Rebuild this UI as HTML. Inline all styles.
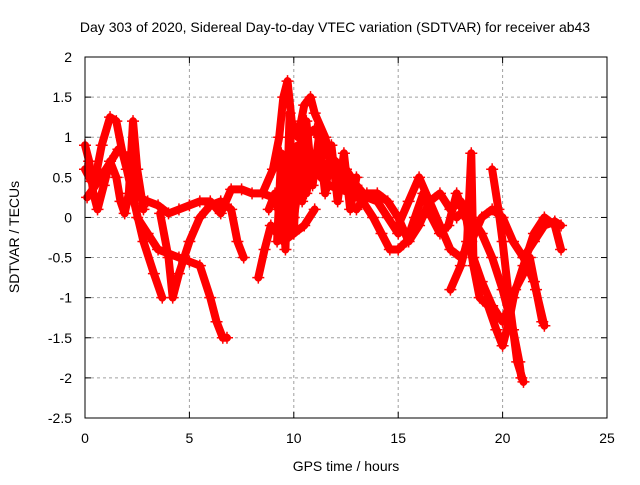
<!DOCTYPE html>
<html><head><meta charset="utf-8"><style>
body{margin:0;background:#fff;}
svg text{font-family:"Liberation Sans",sans-serif;font-size:14px;fill:#000;}
</style></head><body>
<svg id="chart" width="640" height="480" viewBox="0 0 640 480">
<text x="335" y="32" text-anchor="middle">Day 303 of 2020, Sidereal Day-to-day VTEC variation (SDTVAR) for receiver ab43</text>
<text x="346" y="471" text-anchor="middle">GPS time / hours</text>
<text transform="translate(19,237) rotate(-90)" text-anchor="middle">SDTVAR / TECUs</text>
<g id="grid"></g><g id="ticks"></g><g id="series"></g>
<rect x="85" y="57" width="522" height="361" fill="none" stroke="#000" stroke-width="1"/>
</svg>
<script>
const xTicks=[0,5,10,15,20,25];
const yTicks=[-2.5,-2,-1.5,-1,-0.5,0,0.5,1,1.5,2];
const trackA=[[0,0.6],[0.3,0.45],[0.5,0.5],[0.8,0.9],[1.2,1.25],[1.5,1.2],[1.8,0.8],[2.0,0.6],[2.3,0.25],[2.8,-0.3],[3.3,-0.7],[3.7,-1.0]];
const trackB=[[0.1,0.25],[0.5,0.4],[1.0,0.6],[1.6,0.85],[2.0,0.75],[2.3,0.5],[2.6,0.25],[3.0,0.2],[3.5,0.15],[4.0,0.05],[4.5,0.1],[5.0,0.15],[5.5,0.2],[6.0,0.2],[6.5,0.05],[7,0.35],[7.5,0.35],[8,0.3],[8.5,0.3],[9,0.25],[9.5,0.35]];
const trackC=[[2.5,0.0],[3,-0.2],[3.5,-0.4],[4,-0.45],[4.5,-0.5],[5,-0.55],[5.5,-0.6],[6,-1.0],[6.3,-1.3],[6.6,-1.5],[6.8,-1.5]];
const trackD=[[3.6,0.05],[4.0,-0.5],[4.2,-1.0],[4.5,-0.7],[5,-0.3],[5.5,0.0],[6,0.15],[6.5,0.2],[7,0.1],[7.3,-0.3],[7.6,-0.5]];
const trackE=[[8.3,-0.75],[8.6,-0.4],[8.9,-0.1],[9.2,-0.2],[9.5,-0.3],[10,-0.2],[10.5,-0.1],[11,0.1]];
const trackF=[[8.5,0.3],[9,0.6],[9.3,1.0],[9.5,1.5],[9.7,1.7],[9.9,1.2],[10.2,1.0],[10.5,1.4],[10.8,1.5],[11,1.3],[11.5,1.0],[12,0.5],[12.5,0.6],[13,0.4],[13.5,0.25],[14,0.2],[14.5,0.0],[15,-0.2]];
const trackG=[[9.5,0.5],[10,0.7],[10.5,1.0],[11,1.1],[11.5,0.8],[12,0.7],[12.5,0.5],[13,0.3]];
const trackH=[[13,0.1],[13.5,0.3],[14,0.3],[14.5,0.2],[15,0.0],[15.5,-0.3],[16,-0.1],[16.5,0.2],[17,0.3],[17.5,0.1],[18,0.2],[18.5,0.0],[19,-0.2],[19.5,-0.5],[20,-0.9],[20.5,-1.4],[20.8,-1.8],[20.9,-2.0]];
const trackI=[[15,-0.1],[15.5,0.2],[16,0.5],[16.5,0.2],[17,-0.1],[17.5,-0.4],[18,-0.5],[18.5,-0.3],[19,0.0],[19.5,0.1],[20,0.0],[20.5,-0.3],[21,-0.5],[21.5,-0.8],[22,-1.35]];
const trackJ=[[17.5,-0.9],[18,-0.6],[18.3,-0.3],[18.5,0.8],[18.6,-0.5],[19,-0.8],[19.5,-1.1],[20,-1.3],[20.5,-1.0],[21,-0.6],[21.5,-0.2],[22,0.0],[22.5,-0.1],[22.8,-0.4]];
const trackK=[[19.5,0.6],[19.8,0.1],[20,-0.3],[20.3,-1.0],[20.7,-1.8],[21,-2.05]];
const trackL=[[21,-0.5],[21.5,-0.3],[22,-0.1],[22.5,-0.05],[22.8,-0.1]];
const trackM=[[9.2,-0.3],[9.4,0.8],[9.6,-0.4],[9.8,1.3],[10.0,-0.2],[10.2,0.9],[10.4,0.2],[10.6,1.2],[10.9,0.4],[11.2,1.0],[11.5,0.3],[11.8,0.9],[12.1,0.2],[12.4,0.8],[12.7,0.1],[13.0,0.5]];
const trackN=[[8.8,0.1],[9.1,0.3],[9.4,-0.1],[9.7,0.4],[10.0,0.0],[10.3,0.5],[10.6,0.3],[10.9,0.7],[11.3,0.5],[11.7,0.4],[12.2,0.35],[12.8,0.3],[13.3,0.2],[13.8,0.0],[14.2,-0.2],[14.6,-0.4],[15.0,-0.4],[15.4,-0.3],[15.8,0.0],[16.2,0.3],[16.6,0.0],[17.0,-0.2],[17.4,-0.1],[17.8,0.3],[18.2,0.0]];
const trackO=[[0.0,0.9],[0.2,0.7],[0.4,0.3],[0.6,0.1],[0.9,0.4],[1.2,0.7],[1.5,0.5],[1.7,0.2],[1.9,0.05],[2.1,0.3],[2.3,1.2],[2.5,0.6],[2.8,0.1]];
const trackP=[[17.8,0.0],[18.2,0.1],[18.6,-0.6],[18.9,-1.0],[19.3,-1.1],[19.7,-1.4],[20.0,-1.6],[20.3,-1.3],[20.6,-0.9],[21.0,-0.7],[21.3,-0.5],[21.6,-0.9],[21.9,-1.3]];
const tracks=[trackA,trackB,trackC,trackD,trackE,trackF,trackG,trackH,trackI,trackJ,trackK,trackL,trackM,trackN,trackO,trackP];
const NS='http://www.w3.org/2000/svg';
const X0=85,X1=607,Y0=418,Y1=57;
function xs(v){return X0+(v-0)/(25-0)*(X1-X0);}
function ys(v){return Y0-(v+2.5)/(4.5)*(Y0-Y1);}
function mk(t,a,p){const e=document.createElementNS(NS,t);for(const k in a)e.setAttribute(k,a[k]);p.appendChild(e);return e;}
const grid=document.getElementById('grid'),ticks=document.getElementById('ticks'),ser=document.getElementById('series');
xTicks.forEach(t=>{const x=xs(t);
 if(t>0&&t<25){const l=mk('line',{x1:x,x2:x,y1:Y1,y2:Y0,stroke:'#a0a0a0','stroke-dasharray':'3,3'},grid);
 
 }
 mk('line',{x1:x,x2:x,y1:Y0,y2:Y0-6,stroke:'#000'},ticks);mk('line',{x1:x,x2:x,y1:Y1,y2:Y1+6,stroke:'#000'},ticks);
 const tx=mk('text',{x:x,y:Y0+25,'text-anchor':'middle'},ticks);tx.textContent=t;
 
 });
yTicks.forEach(t=>{const y=ys(t);
 if(t>-2.5&&t<2){const l=mk('line',{x1:X0,x2:X1,y1:y,y2:y,stroke:'#a0a0a0','stroke-dasharray':'3,3'},grid);
 
 }
 mk('line',{x1:X0,x2:X0+6,y1:y,y2:y,stroke:'#000'},ticks);mk('line',{x1:X1,x2:X1-6,y1:y,y2:y,stroke:'#000'},ticks);
 const tx=mk('text',{x:X0-13,y:y+5,'text-anchor':'end'},ticks);tx.textContent=t;
 
 });
tracks.forEach((tr,i)=>{
 const pts=tr.map(p=>xs(p[0])+','+ys(p[1])).join(' ');
 const pl=mk('polyline',{points:pts,fill:'none',stroke:'#ff0000','stroke-width':8,'stroke-linejoin':'round','stroke-linecap':'round'},ser);
 
 
 tr.forEach(p=>{const x=xs(p[0]),y=ys(p[1]);
  const m=mk('path',{d:`M${x-6},${y}H${x+6}M${x},${y-6}V${y+6}`,stroke:'#ff0000','stroke-width':1.5},ser);
  
  });
});
</script>
</body></html>
